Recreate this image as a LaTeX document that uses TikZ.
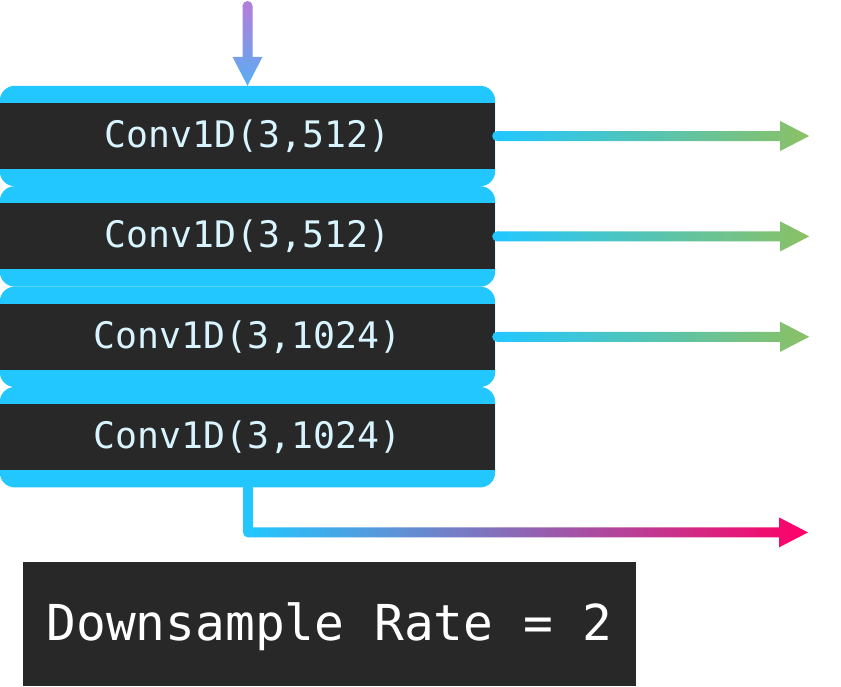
\documentclass[tikz,border=0pt]{standalone}
\usepackage{fontspec}
\usepackage{xcolor}
\usepackage{tikz}
\usetikzlibrary{positioning,calc,backgrounds}
\newfontfamily\codefont{DejaVu Sans Mono}
\definecolor{SkyBlue}{HTML}{22C7FF}
\definecolor{Ink}{HTML}{282828}
\definecolor{PaleCyan}{HTML}{D8F5FF}
\definecolor{LeafGreen}{HTML}{8BC163}
\definecolor{HotPink}{HTML}{FF0066}
\definecolor{Lilac}{HTML}{B07FDC}
\definecolor{SoftBlue}{HTML}{58AEF2}

% gradient arrows: #1 start, #2 tip, #3 start colour, #4 end colour
\newcommand{\hgradarrow}[4]{%
	\fill[#3] (#1) circle (5pt);
	\shade[left color=#3, right color=#4]
		($(#1)+(0,-5)$) -- ($(#2)+(-29,-5)$) -- ($(#2)+(-29,-15)$) -- (#2)
		-- ($(#2)+(-29,15)$) -- ($(#2)+(-29,5)$) -- ($(#1)+(0,5)$) -- cycle;}
\newcommand{\vgradarrow}[4]{%
	\fill[#3] (#1) circle (5pt);
	\shade[top color=#3, bottom color=#4]
		($(#1)+(-5,0)$) -- ($(#2)+(-5,-29)$) -- ($(#2)+(-15,-29)$) -- (#2)
		-- ($(#2)+(15,-29)$) -- ($(#2)+(5,-29)$) -- ($(#1)+(5,0)$) -- cycle;}

\begin{document}
\begin{tikzpicture}[x=1pt, y=-1pt,
		band/.style={fill=Ink, text=PaleCyan, minimum width=495pt, minimum height=66pt,
			inner sep=0pt, font=\codefont\fontsize{36.5}{40}\selectfont},
		ratebox/.style={fill=Ink, text=white, minimum width=613pt, minimum height=124pt,
			inner sep=0pt, text height=33pt, text depth=0pt,
			font=\codefont\fontsize{49.5}{56}\selectfont}]
	\useasboundingbox (0,0) rectangle (841,686);

	\node[band] (conv1) at (247.5,136) {Conv1D(3,512)};
	\node[band, below=34pt of conv1] (conv2) {Conv1D(3,512)};
	\node[band, below=34pt of conv2] (conv3) {Conv1D(3,1024)};
	\node[band, below=34pt of conv3] (conv4) {Conv1D(3,1024)};

	\begin{scope}[on background layer]
		\foreach \i in {1,...,4} {
			\fill[SkyBlue, rounded corners=15pt] ([yshift=17pt]conv\i.north west) rectangle ([yshift=-17pt]conv\i.south east);
		}
	\end{scope}

	% input
	\coordinate (in) at (247.5,6);
	\vgradarrow{in}{$(conv1.north)+(0,-17)$}{Lilac}{SoftBlue}

	% outputs
	\foreach \i in {1,2,3} {
		\coordinate (s\i) at ([xshift=2pt]conv\i.east);
		\coordinate (o\i) at ([xshift=314pt]conv\i.east);
		\hgradarrow{s\i}{o\i}{SkyBlue}{LeafGreen}
	}

	% downsampled output
	\coordinate (bend) at ($(conv4.south)+(0.5,62)$);
	\coordinate (o4) at ($(bend)+(560,0)$);
	\fill[SkyBlue] ($(conv4.south)+(-4.5,10)$) rectangle ($(bend)+(5,0)$);
	\hgradarrow{bend}{o4}{SkyBlue}{HotPink}

	\node[ratebox, anchor=north west] (rate) at (23,562) {Downsample Rate = 2};
\end{tikzpicture}
\end{document}
